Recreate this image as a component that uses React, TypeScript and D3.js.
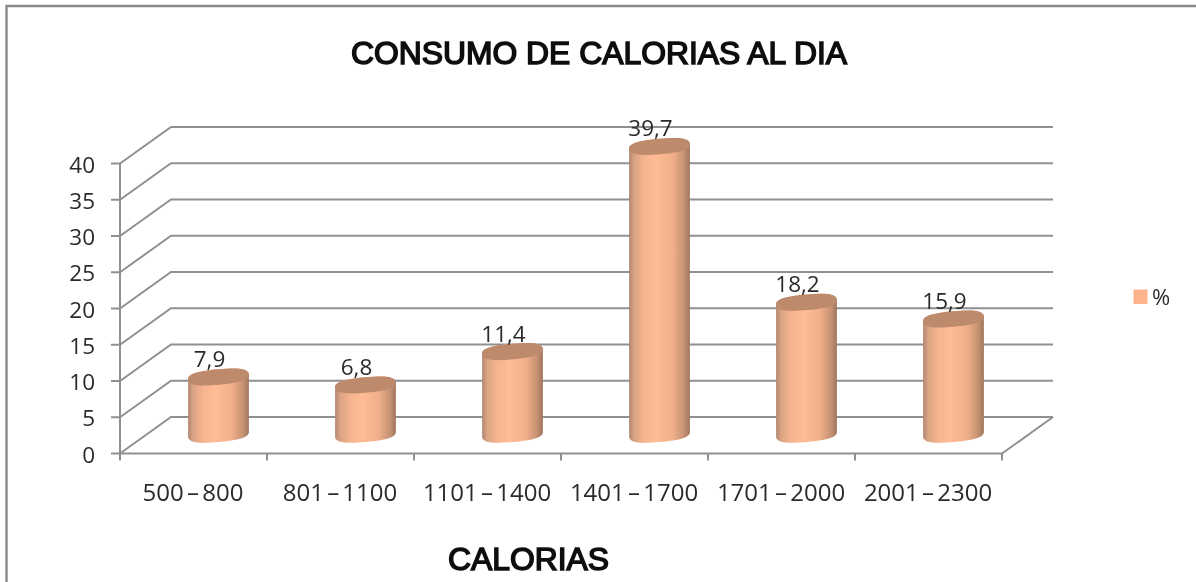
import React from "react";
import * as d3 from "d3";

const categories = ["500 – 800", "801 – 1100", "1101 – 1400", "1401 – 1700", "1701 – 2000", "2001 – 2300"];
const values = [7.9, 6.8, 11.4, 39.7, 18.2, 15.9];
const labels = ["7,9", "6,8", "11,4", "39,7", "18,2", "15,9"];
const yTicks = [0, 5, 10, 15, 20, 25, 30, 35, 40];
const title = "CONSUMO DE CALORIAS AL DIA";
const xTitle = "CALORIAS";
const seriesName = "%";

const W = 1196, H = 582;
const x = d3.scaleBand<string>().domain(categories).range([120, 1002]).paddingInner(0).paddingOuter(0);
const y = d3.scaleLinear().domain([0, 40]).range([453.5, 163.5]);
const depthX = 51, depthY = -36.5;
const gridColor = "#909090";
const textColor = "#2b2b2b";
const tickFont = "'Open Sans', sans-serif";
const titleFont = "'Liberation Sans', Arial, sans-serif";
const barRx = 30.5, barRy = 7.8;
const tilt = -5;
const kappa = 0.7;

// a point of the tilted cap, given in the cap's own axes
function capPoint(cx: number, cy: number, u: number, v: number) {
  const a = (tilt * Math.PI) / 180;
  const px = u * barRx, py = v * barRy;
  return [cx + px * Math.cos(a) - py * Math.sin(a), cy + px * Math.sin(a) + py * Math.cos(a)];
}

function capLower(cx: number, cy: number) {
  const p = (u: number, v: number) => capPoint(cx, cy, u, v);
  return `C${p(-1, kappa)} ${p(-kappa, 1)} ${p(0, 1)} C${p(kappa, 1)} ${p(1, kappa)} ${p(1, 0)}`;
}

function capUpper(cx: number, cy: number) {
  const p = (u: number, v: number) => capPoint(cx, cy, u, v);
  return `C${p(1, -kappa)} ${p(kappa, -1)} ${p(0, -1)} C${p(-kappa, -1)} ${p(-1, -kappa)} ${p(-1, 0)}`;
}

function barPath(cx: number, topY: number, botY: number) {
  return `M${capPoint(cx, topY, -1, 0)} L${capPoint(cx, botY, -1, 0)} ${capLower(cx, botY)} L${capPoint(cx, topY, 1, 0)} ${capUpper(cx, topY)} Z`;
}

function capPath(cx: number, cy: number) {
  return `M${capPoint(cx, cy, -1, 0)} ${capLower(cx, cy)} ${capUpper(cx, cy)} Z`;
}

export default function App() {
  const line = d3.line();
  return (
    <svg width={W} height={H} viewBox={`0 0 ${W} ${H}`} style={{ position: "absolute", left: 0, top: 0, background: "#fff", display: "block" }}>
      <defs>
        <linearGradient id="cyl" x1="0" x2="1" y1="0" y2="0">
          <stop offset="0" stopColor="#b08670" />
          <stop offset="0.08" stopColor="#d9a383" />
          <stop offset="0.25" stopColor="#f6b48f" />
          <stop offset="0.45" stopColor="#ffbc95" />
          <stop offset="0.72" stopColor="#f0af8a" />
          <stop offset="0.9" stopColor="#c79273" />
          <stop offset="1" stopColor="#a0765d" />
        </linearGradient>
        <filter id="soft" x="-5%" y="-5%" width="110%" height="110%">
          <feGaussianBlur stdDeviation="0.5" />
        </filter>
      </defs>
      <g filter="url(#soft)">
        <path d="M6.5 582 V6 H1196" fill="none" stroke="#8a8a8a" strokeWidth={2.4} />

        {yTicks.map((t) => (
          <g key={t}>
            <path
              d={line([[x.range()[0], y(t)], [x.range()[0] + depthX, y(t) + depthY], [x.range()[1] + depthX, y(t) + depthY]]) as string}
              fill="none"
              stroke={gridColor}
              strokeWidth={2}
            />
            <line x1={111} x2={120} y1={y(t)} y2={y(t)} stroke={gridColor} strokeWidth={2} />
            <text x={95} y={y(t) + 9} textAnchor="end" fontFamily={tickFont} fontSize={22.5} fill={textColor}>{t}</text>
          </g>
        ))}
        <line x1={120} x2={120} y1={y(40)} y2={y(0) + 7} stroke={gridColor} strokeWidth={2} />
        <path
          d={line([[x.range()[0], y(0)], [x.range()[1], y(0)], [x.range()[1] + depthX, y(0) + depthY]]) as string}
          fill="none"
          stroke={gridColor}
          strokeWidth={2}
        />
        {categories.map((c) => (
          <line key={c} x1={(x(c) as number) + x.bandwidth()} x2={(x(c) as number) + x.bandwidth()} y1={y(0)} y2={y(0) + 7} stroke={gridColor} strokeWidth={2} />
        ))}

        {categories.map((c, i) => {
          const cx = (x(c) as number) + x.bandwidth() / 2 + 25;
          const base = y(0) + depthY / 2 - 1;
          const top = base - (y(0) - y(values[i]));
          return (
            <g key={c}>
              <path d={barPath(cx, top, base)} fill="url(#cyl)" />
              <path d={capPath(cx, top)} fill="#bd8a6c" />
              <text x={cx - 9} y={top - 10} textAnchor="middle" fontFamily={tickFont} fontSize={22.5} fill={textColor}>{labels[i]}</text>
              <text x={(x(c) as number) + x.bandwidth() / 2 - 0.5} y={501} textAnchor="middle" fontFamily={tickFont} fontSize={24} wordSpacing={-3} fill={textColor}>{c}</text>
            </g>
          );
        })}

        <text x={351} y={64} textLength={496} lengthAdjust="spacingAndGlyphs" fontFamily={titleFont} fontSize={31} fill="#111" stroke="#111" strokeWidth={1.5}>{title}</text>
        <text x={448} y={570} textLength={161} lengthAdjust="spacingAndGlyphs" fontFamily={titleFont} fontSize={31} fill="#111" stroke="#111" strokeWidth={1.5}>{xTitle}</text>

        <rect x={1133.5} y={289.5} width={14} height={14.5} fill="#fdb48c" />
        <text x={1152} y={305} fontFamily={tickFont} fontSize={22} fill={textColor}>{seriesName}</text>
      </g>
    </svg>
  );
}
